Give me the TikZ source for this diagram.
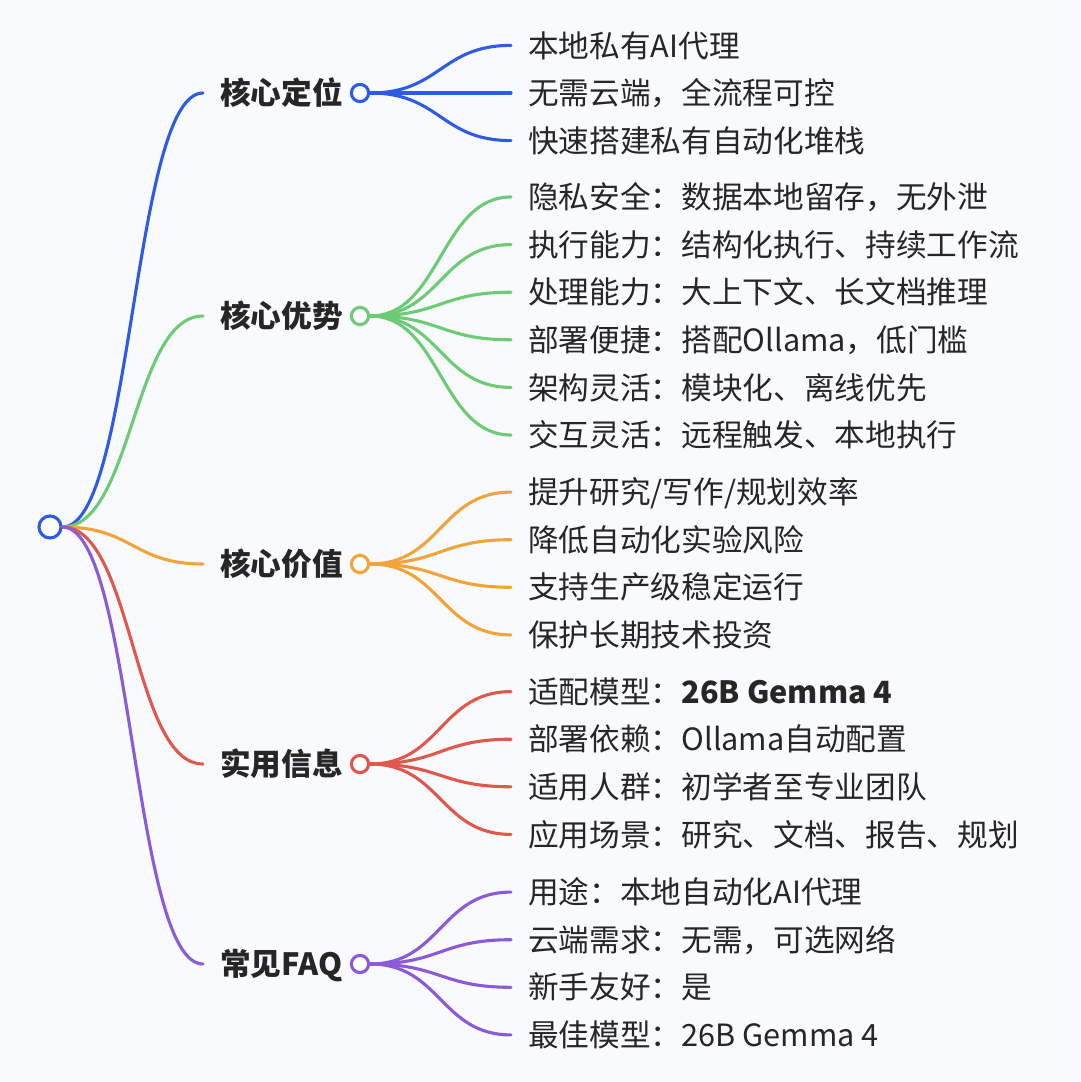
\documentclass[tikz,border=0pt]{standalone}
\usepackage{fontspec}
\setmainfont{Noto Sans CJK SC}
\usetikzlibrary{calc}
\definecolor{bg}{HTML}{F8FAFD}
\definecolor{ink}{HTML}{262626}
\definecolor{cblue}{HTML}{2D5BE6}
\definecolor{cgreen}{HTML}{6CCB74}
\definecolor{corange}{HTML}{F2A33A}
\definecolor{cred}{HTML}{E0574C}
\definecolor{cpurple}{HTML}{8C5AD8}
\begin{document}
\begin{tikzpicture}[
        x=0.025cm,y=-0.025cm,
        line cap=round,line join=round,
        link/.style={line width=2.2pt},
        hub/.style={circle,draw,fill=white,line width=2.2pt,inner sep=0pt,minimum size=0.43cm},
        cat/.style={anchor=west,inner xsep=0.425cm,inner ysep=0pt,text height=19.2pt,text depth=2.6pt,
            text=ink,font=\fontsize{21.8pt}{26pt}\selectfont\bfseries},
        leaf/.style={cat,font=\fontsize{21.8pt}{26pt}\selectfont},
        branch/.style={to path={let \p1=(\tikztostart), \p2=(\tikztotarget) in
            .. controls ({0.5*(\x1+\x2)},\y1) and ({0.5*(\x1+\x2)},\y2) .. (\tikztotarget)}}
    ]
    \fill[bg] (0,0) rectangle (1080,1082);
    \useasboundingbox (0,0) rectangle (1080,1082);
    \node[hub,draw=cblue,minimum size=0.55cm] (root) at (50,527) {};
    % core positioning
    \node[cat] (pos) at (203,93) {核心定位};
    \node[hub,draw=cblue] (pos-hub) at (360,93) {};
    \draw[link,cblue] (root.east) to[branch] (pos.west);
    \foreach \t [count=\i] in {{本地私有AI代理},{无需云端，全流程可控},{快速搭建私有自动化堆栈}}{
        \node[leaf] (pos-\i) at (511,{93+(\i-2)*47.6}) {\t};
        \draw[link,cblue] (pos-hub.east) to[branch] (pos-\i.west);
    }
    % advantages
    \node[cat] (adv) at (203,316) {核心优势};
    \node[hub,draw=cgreen] (adv-hub) at (360,316) {};
    \draw[link,cgreen] (root.east) to[branch] (adv.west);
    \foreach \t [count=\i] in {{隐私安全：数据本地留存，无外泄},{执行能力：结构化执行、持续工作流},
        {处理能力：大上下文、长文档推理},{部署便捷：搭配Ollama，低门槛},
        {架构灵活：模块化、离线优先},{交互灵活：远程触发、本地执行}}{
        \node[leaf] (adv-\i) at (511,{316+(\i-3.5)*47.6}) {\t};
        \draw[link,cgreen] (adv-hub.east) to[branch] (adv-\i.west);
    }
    % value
    \node[cat] (val) at (203,564) {核心价值};
    \node[hub,draw=corange] (val-hub) at (360,564) {};
    \draw[link,corange] (root.east) to[branch] (val.west);
    \foreach \t [count=\i] in {{提升研究/写作/规划效率},{降低自动化实验风险},
        {支持生产级稳定运行},{保护长期技术投资}}{
        \node[leaf] (val-\i) at (511,{563.5+(\i-2.5)*47.6}) {\t};
        \draw[link,corange] (val-hub.east) to[branch] (val-\i.west);
    }
    % practical info
    \node[cat] (info) at (203,764) {实用信息};
    \node[hub,draw=cred] (info-hub) at (360,764) {};
    \draw[link,cred] (root.east) to[branch] (info.west);
    \foreach \t [count=\i] in {{适配模型：\textbf{26B Gemma 4}},{部署依赖：Ollama自动配置},
        {适用人群：初学者至专业团队},{应用场景：研究、文档、报告、规划}}{
        \node[leaf] (info-\i) at (511,{763+(\i-2.5)*47.6}) {\t};
        \draw[link,cred] (info-hub.east) to[branch] (info-\i.west);
    }
    % faq
    \node[cat] (faq) at (203,964) {常见FAQ};
    \node[hub,draw=cpurple] (faq-hub) at (360,964) {};
    \draw[link,cpurple] (root.east) to[branch] (faq.west);
    \foreach \t [count=\i] in {{用途：本地自动化AI代理},{云端需求：无需，可选网络},
        {新手友好：是},{最佳模型：26B Gemma 4}}{
        \node[leaf] (faq-\i) at (511,{963.5+(\i-2.5)*47.6}) {\t};
        \draw[link,cpurple] (faq-hub.east) to[branch] (faq-\i.west);
    }
\end{tikzpicture}
\end{document}
